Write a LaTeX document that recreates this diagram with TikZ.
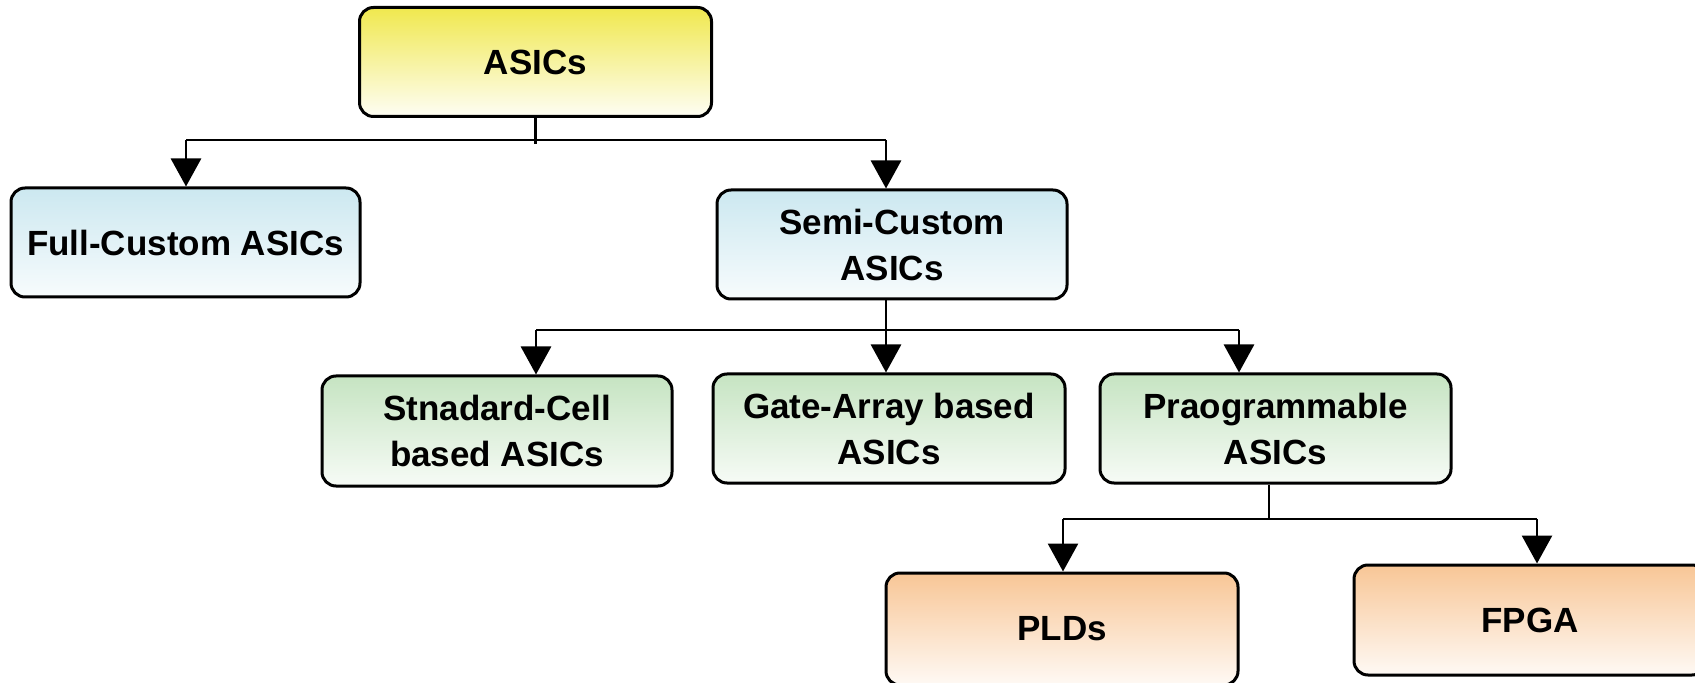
\documentclass[tikz,border=0pt]{standalone}
\usepackage{fontspec}
\setmainfont{Liberation Sans}
\usetikzlibrary{arrows.meta}
\definecolor{topyellow}{RGB}{240,232,78}
\definecolor{topblue}{RGB}{204,232,240}
\definecolor{topgreen}{RGB}{198,228,194}
\definecolor{toporange}{RGB}{248,198,150}
\tikzset{
  box/.style={draw,line width=1.5pt,rounded corners=7pt,align=center,
    font=\fontsize{17.5}{23}\selectfont\bfseries,inner sep=0pt},
  link/.style={line width=1.4pt},
  arr/.style={link,-{Triangle[width=15pt,length=14pt]}}
}
\begin{document}
\begin{tikzpicture}[x=0.5pt,y=0.5pt,yscale=-1,xscale=1]
\useasboundingbox (0,0) rectangle (1695,683);
%Shape: Boxes
\node [box,minimum width=176pt,minimum height=54.5pt,top color=topyellow,bottom color=topyellow!6] (asics) at (535.5,62) {ASICs};
\node [box,minimum width=174.5pt,minimum height=54.5pt,top color=topblue,bottom color=topblue!15] (full) at (185.5,242.5) {Full-Custom ASICs};
\node [box,minimum width=175pt,minimum height=54.5pt,top color=topblue,bottom color=topblue!15] (semi) at (892,244.5) {Semi-Custom\\ASICs};
\node [box,minimum width=175pt,minimum height=55pt,top color=topgreen,bottom color=topgreen!15] (std) at (497,431) {Stnadard-Cell\\based ASICs};
\node [box,minimum width=176pt,minimum height=54.5pt,top color=topgreen,bottom color=topgreen!15] (gate) at (889,428.5) {Gate-Array based\\ASICs};
\node [box,minimum width=175.5pt,minimum height=54.5pt,top color=topgreen,bottom color=topgreen!15] (prog) at (1275.5,428.5) {Praogrammable\\ASICs};
\node [box,minimum width=176pt,minimum height=56pt,top color=toporange,bottom color=toporange!10] (plds) at (1062,629) {PLDs};
\node [box,minimum width=176pt,minimum height=55pt,top color=toporange,bottom color=toporange!10] (fpga) at (1530,620) {FPGA};
%Junctions
\coordinate (tl) at (186,140);
\coordinate (tr) at (886,140);
\coordinate (ml) at (536,330);
\coordinate (mr) at (1239,330);
\coordinate (lm) at (1269,519);
\coordinate (ll) at (1063,519);
\coordinate (lr) at (1537,519);
%Straight Lines
\draw [link] (asics.south) -- ++(0,26);
\draw [link] (tl) -- (tr);
\draw [arr] (tl) -- (tl |- full.north);
\draw [arr] (tr) -- (tr |- semi.north);
%Straight Lines
\draw [link] (ml) -- (mr);
\draw [arr] (tr |- semi.south) -- (tr |- gate.north);
\draw [arr] (ml) -- (ml |- std.north);
\draw [arr] (mr) -- (mr |- prog.north);
%Straight Lines
\draw [link] (lm |- prog.south) -- (lm);
\draw [link] (ll) -- (lr);
\draw [arr] (ll) -- (ll |- plds.north);
\draw [arr] (lr) -- (lr |- fpga.north);
\end{tikzpicture}
\end{document}
